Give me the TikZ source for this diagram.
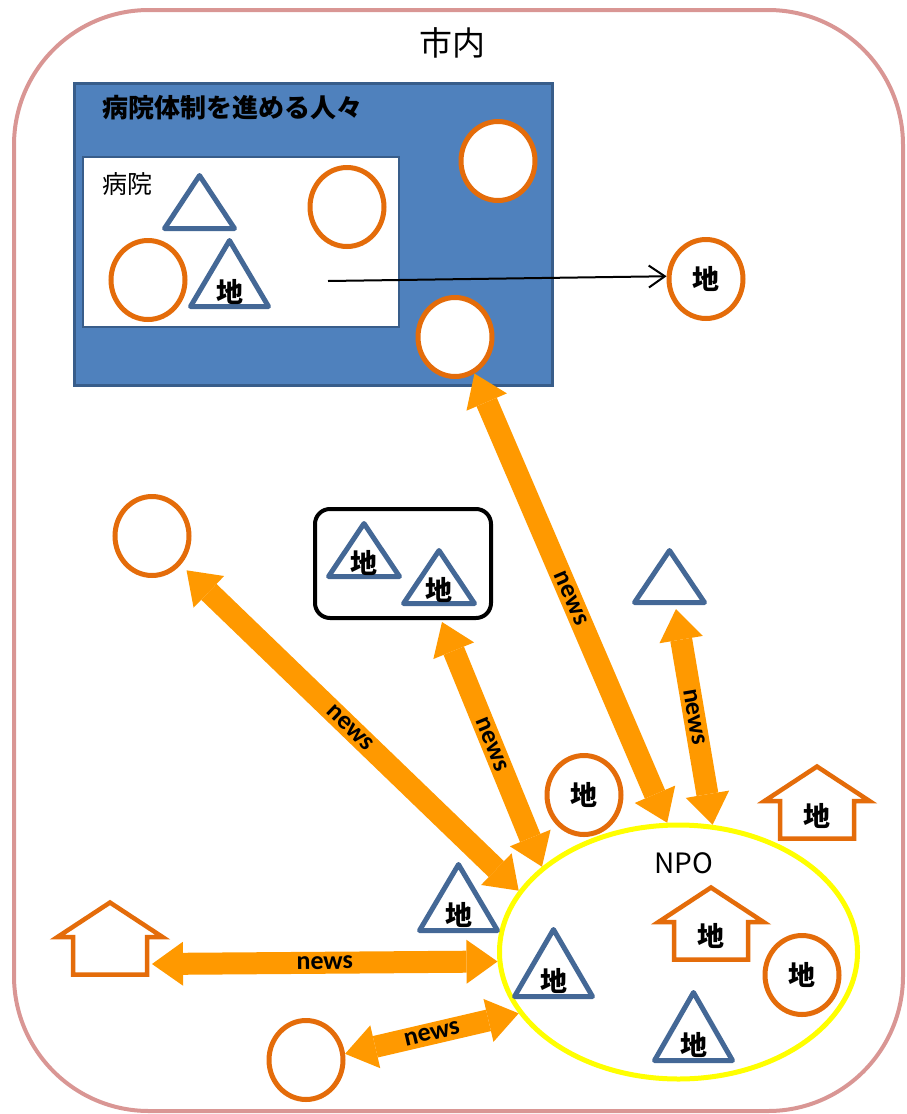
\documentclass[tikz,border=0pt]{standalone}
\usepackage{fontspec}
\setmainfont{Carlito}
\newfontfamily\jp{Noto Sans CJK JP}
\usetikzlibrary{shapes.geometric,arrows.meta,calc}
\definecolor{framepink}{RGB}{217,150,148}
\definecolor{cirOr}{RGB}{228,108,10}
\definecolor{triBl}{RGB}{68,104,150}
\definecolor{boxBl}{RGB}{79,129,189}
\definecolor{boxBd}{RGB}{56,93,138}
\definecolor{arOr}{RGB}{255,153,0}
\definecolor{npoY}{RGB}{255,255,0}
\tikzset{
  frame/.style={draw=framepink, line width=4pt, rounded corners=135pt},
  circ/.style={ellipse, draw=cirOr, line width=5pt, fill=white, minimum width=74pt, minimum height=79pt, inner sep=0pt},
  chi/.style={font=\jp\bfseries\fontsize{27}{27}\selectfont, inner sep=0pt},
  tribox/.style={inner sep=0pt, outer sep=0pt, draw=none},
  triline/.style={draw=triBl, line width=5pt, line join=round, fill=white},
  hbox/.style={inner sep=0pt, outer sep=0pt, minimum width=78pt, minimum height=76pt},
  hline/.style={draw=cirOr, line width=4.5pt, line join=miter, fill=white},
  newsarrow/.style={draw=arOr, line width=22pt,
    {Triangle[width=44pt,length=31pt,line width=0pt]}-{Triangle[width=44pt,length=31pt,line width=0pt]}},
  newslabel/.style={font=\bfseries\fontsize{26}{26}\selectfont, inner sep=0pt, sloped, text=black},
}
\newcommand{\trishape}[5]{%
  \node[tribox, minimum width=#4pt, minimum height=#5pt, anchor=south] (#1) at (#2,#3) {};
  \draw[triline] (#1.south west) -- (#1.south east) -- (#1.north) -- cycle;}
\newcommand{\houseshape}[3]{%
  \node[hbox] (#1) at (#2,#3) {};
  \draw[hline] ([yshift=36pt]#1.center) -- ++(-52.5pt,-34.5pt) -- ++(15.5pt,0pt) -- ++(0pt,-37.5pt)
    -- ++(74pt,0pt) -- ++(0pt,37.5pt) -- ++(15.5pt,0pt) -- cycle;}
\begin{document}
\begin{tikzpicture}[x=1pt,y=-1pt]
\useasboundingbox (0,0) rectangle (906,1114);
\draw[frame] (14,10) rectangle (903,1111);
\node[font=\jp\fontsize{33}{33}\selectfont, inner sep=0pt] (city) at (452,43) {市内};

% hospital team box
\node[draw=boxBd, fill=boxBl, line width=3pt, minimum width=478pt, minimum height=302pt, inner sep=0pt] (team) at (313.5,234.5) {};
\node[anchor=west, font=\jp\bfseries\fontsize{26}{26}\selectfont, inner sep=0pt] (teamT) at (102,108) {病院体制を進める人々};
\node[draw=boxBd, fill=white, line width=2pt, minimum width=316pt, minimum height=170pt, inner sep=0pt] (hos) at (241,242) {};
\node[anchor=west, font=\jp\fontsize{25}{25}\selectfont, inner sep=0pt] (hosT) at (102,184) {病院};
\trishape{t1}{199.5}{228.5}{70}{53}
\trishape{t2}{229.5}{306.5}{78}{66}
\node[chi] (t2l) at ([yshift=15pt]t2.south) {地};
\node[circ] (c1) at (148,280) {};
\node[circ] (c2) at (347,207) {};
\node[circ] (c3) at (498,161) {};
\node[circ] (c4) at (455,337) {};

% right circle with line
\node[circ] (cR) at (706,279) {};
\node[chi] (cRl) at (cR.center) {地};
\coordinate (lnS) at (328,281);
\draw[line width=2pt, -{Straight Barb[length=16pt,width=22pt]}] (lnS) -- (cR.176);

% left circle
\node[circ] (cL) at (152,536) {};

% group box
\node[draw=black, line width=4pt, rounded corners=15pt, minimum width=176pt, minimum height=109pt, inner sep=0pt] (grp) at (403,563.5) {};
\trishape{ta}{364}{576.5}{71}{53}
\node[chi] (tal) at ([yshift=14pt]ta.south) {地};
\trishape{tb}{439}{603.5}{71}{53}
\node[chi] (tbl) at ([yshift=14pt]tb.south) {地};

% right triangle
\trishape{tR}{669.5}{602.5}{70}{52}

% NPO
\node[ellipse, draw=npoY, line width=5pt, fill=white, minimum width=358pt, minimum height=254pt, inner sep=0pt] (npo) at (678.5,952) {};
\node[font=\jp\fontsize{28}{28}\selectfont, inner sep=0pt] (npoT) at (684,863) {NPO};
\houseshape{hN}{711}{923.5}
\node[chi] (hNl) at ([yshift=-12pt]hN.center) {地};
\node[circ] (cN) at (802,975) {};
\node[chi] (cNl) at (cN.center) {地};
\trishape{tN1}{553.5}{996.5}{78}{67}
\node[chi] (tN1l) at ([yshift=16pt]tN1.south) {地};
\trishape{tN2}{693.5}{1060.5}{78}{68}
\node[chi] (tN2l) at ([yshift=16pt]tN2.south) {地};

% around NPO
\node[circ] (cA) at (584,795) {};
\node[chi] (cAl) at (cA.center) {地};
\houseshape{hU}{817}{802.5}
\node[chi] (hUl) at ([yshift=-13pt]hU.center) {地};
\trishape{tL}{458.5}{930.5}{78}{66}
\node[chi] (tLl) at ([yshift=16pt]tL.south) {地};
\houseshape{hL}{110}{938.5}
\node[circ] (cBot) at (306,1060) {};

% news arrows
\draw[newsarrow] ([shift={(3pt,-25.5pt)}]hL.east) -- node[newslabel]{news} (npo.183.7);
\draw[newsarrow] (cBot.9.5) -- node[newslabel]{news} (npo.201.1);
\draw[newsarrow, shorten <=8pt] (cL.-45) -- node[newslabel]{news} (npo.159.8);
\draw[newsarrow] ([shift={(39pt,-2pt)}]grp.south) -- node[newslabel]{news} (npo.148.2);
\draw[newsarrow] (c4.-62) -- node[newslabel]{news} (npo.95);
\draw[newsarrow] ([shift={(6.5pt,-6.5pt)}]tR.south) -- node[newslabel]{news} (npo.75);
\end{tikzpicture}
\end{document}
